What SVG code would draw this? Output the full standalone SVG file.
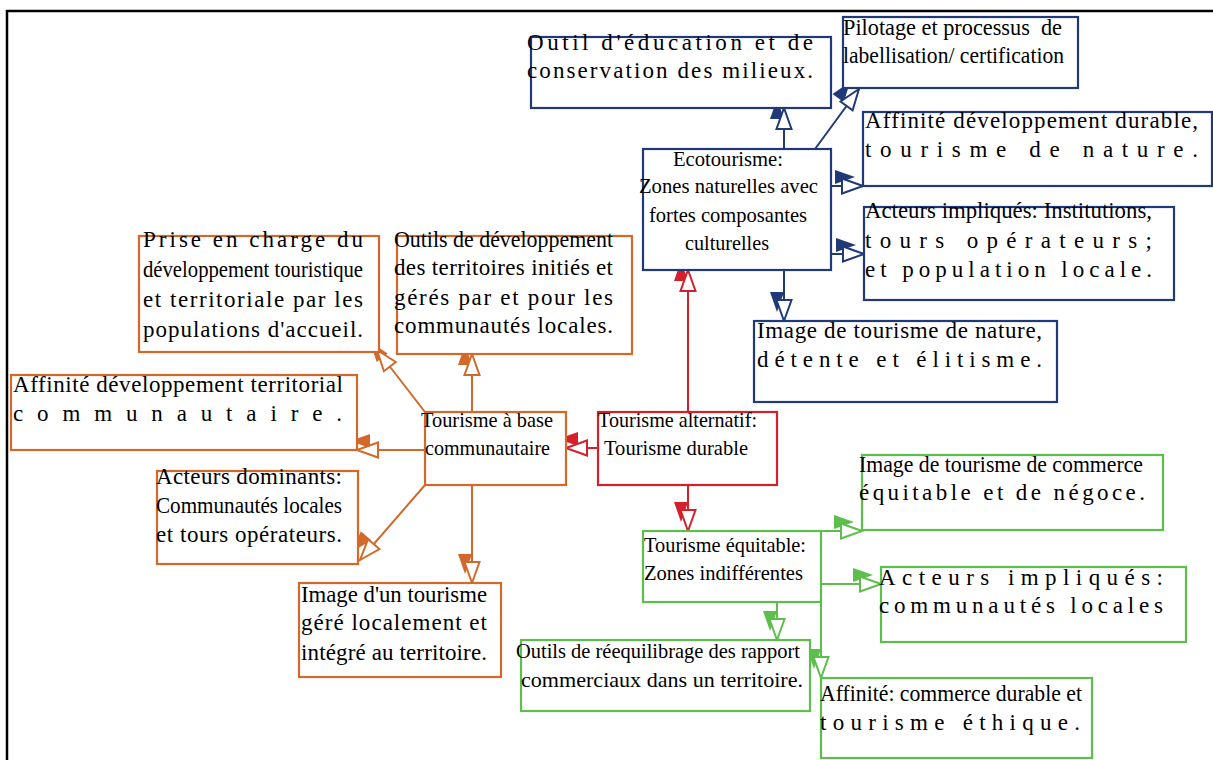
<svg xmlns="http://www.w3.org/2000/svg" xmlns:xlink="http://www.w3.org/1999/xlink" width="1213" height="760" viewBox="0 0 1213 760">
  <style>
    text { font-family: "Liberation Serif", "Times New Roman", serif; font-size: 23px; fill: #000; }
    text.c { font-size: 22px; }
    rect { fill: #fff; stroke-width: 2.2; }
    line { stroke-width: 2; fill: none; }
    .af { stroke: none; }
    .ao { fill: #fff; stroke-width: 2; stroke-linejoin: miter; }
    .blue rect, .blue line, .blue .ao { stroke: #203A78; }
    .blue .af { fill: #203A78; }
    .red rect, .red line, .red .ao { stroke: #D3202A; }
    .red .af { fill: #D3202A; }
    .orange rect, .orange line, .orange .ao { stroke: #D2692A; }
    .orange .af { fill: #D2692A; }
    .green rect, .green line, .green .ao { stroke: #5CBF4B; }
    .green .af { fill: #5CBF4B; }
    .frame { stroke: #000; stroke-width: 2.5; fill: none; }
  </style>
  <defs>
    <!-- arrowheads drawn pointing along +x, tip at the origin -->
    <path id="head-fill" d="M0,0 L-20,-7 L-20,7 Z"/>
    <path id="head-open" d="M0,0 L-21,-7.5 L-21,7.5 Z"/>
  </defs>

  <rect width="1213" height="760" style="fill:#fff;stroke:none"/>
  <path class="frame" d="M7,760 L7,11 L1213,11"/>

  <!-- connectors -->
  <g id="connectors">
    <g class="blue">
      <line x1="784" y1="149" x2="784" y2="108"/>
      <use xlink:href="#head-fill" class="af" transform="translate(777,99) rotate(-90)"/>
      <use xlink:href="#head-open" class="ao" transform="translate(784,108) rotate(-90)"/>
      <line x1="815" y1="149" x2="859" y2="89"/>
      <use xlink:href="#head-fill" class="af" transform="translate(850,82) rotate(-53.7)"/>
      <use xlink:href="#head-open" class="ao" transform="translate(859,89) rotate(-53.7)"/>
      <line x1="831" y1="186" x2="863" y2="186"/>
      <use xlink:href="#head-fill" class="af" transform="translate(855,177) rotate(0)"/>
      <use xlink:href="#head-open" class="ao" transform="translate(863,186) rotate(0)"/>
      <line x1="831" y1="254" x2="864" y2="254"/>
      <use xlink:href="#head-fill" class="af" transform="translate(856,245) rotate(0)"/>
      <use xlink:href="#head-open" class="ao" transform="translate(864,254) rotate(0)"/>
      <line x1="784" y1="270" x2="784" y2="321"/>
      <use xlink:href="#head-fill" class="af" transform="translate(777,312) rotate(90)"/>
      <use xlink:href="#head-open" class="ao" transform="translate(784,321) rotate(90)"/>
    </g>
    <g class="red">
      <line x1="688" y1="412" x2="688" y2="270"/>
      <use xlink:href="#head-fill" class="af" transform="translate(681,261) rotate(-90)"/>
      <use xlink:href="#head-open" class="ao" transform="translate(688,270) rotate(-90)"/>
      <line x1="598" y1="448" x2="566" y2="448"/>
      <use xlink:href="#head-fill" class="af" transform="translate(558,439) rotate(180)"/>
      <use xlink:href="#head-open" class="ao" transform="translate(566,448) rotate(180)"/>
      <line x1="688" y1="485" x2="688" y2="531"/>
      <use xlink:href="#head-fill" class="af" transform="translate(681,522) rotate(90)"/>
      <use xlink:href="#head-open" class="ao" transform="translate(688,531) rotate(90)"/>
    </g>
    <g class="orange">
      <line x1="472" y1="412" x2="472" y2="354"/>
      <use xlink:href="#head-fill" class="af" transform="translate(465,345) rotate(-90)"/>
      <use xlink:href="#head-open" class="ao" transform="translate(472,354) rotate(-90)"/>
      <line x1="425" y1="412" x2="377" y2="350"/>
      <use xlink:href="#head-fill" class="af" transform="translate(370,342) rotate(-127.7)"/>
      <use xlink:href="#head-open" class="ao" transform="translate(377,350) rotate(-127.7)"/>
      <line x1="425" y1="450" x2="357" y2="450"/>
      <use xlink:href="#head-fill" class="af" transform="translate(350,441) rotate(180)"/>
      <use xlink:href="#head-open" class="ao" transform="translate(357,450) rotate(180)"/>
      <line x1="425" y1="485" x2="360" y2="560"/>
      <use xlink:href="#head-fill" class="af" transform="translate(353,551) rotate(130.9)"/>
      <use xlink:href="#head-open" class="ao" transform="translate(360,560) rotate(130.9)"/>
      <line x1="472" y1="485" x2="472" y2="583"/>
      <use xlink:href="#head-fill" class="af" transform="translate(465,574) rotate(90)"/>
      <use xlink:href="#head-open" class="ao" transform="translate(472,583) rotate(90)"/>
    </g>
    <g class="green">
      <line x1="821" y1="531" x2="862" y2="531"/>
      <use xlink:href="#head-fill" class="af" transform="translate(854,522) rotate(0)"/>
      <use xlink:href="#head-open" class="ao" transform="translate(862,531) rotate(0)"/>
      <line x1="821" y1="584" x2="881" y2="584"/>
      <use xlink:href="#head-fill" class="af" transform="translate(873,575) rotate(0)"/>
      <use xlink:href="#head-open" class="ao" transform="translate(881,584) rotate(0)"/>
      <line x1="777" y1="602" x2="777" y2="640"/>
      <use xlink:href="#head-fill" class="af" transform="translate(770,631) rotate(90)"/>
      <use xlink:href="#head-open" class="ao" transform="translate(777,640) rotate(90)"/>
      <line x1="821" y1="531" x2="821" y2="678"/>
      <use xlink:href="#head-fill" class="af" transform="translate(814,669) rotate(90)"/>
      <use xlink:href="#head-open" class="ao" transform="translate(821,678) rotate(90)"/>
    </g>
  </g>

  <!-- ecotourism branch -->
  <g id="eco-education" class="blue">
    <rect x="531" y="37" width="300" height="71"/>
    <text x="527" y="50" textLength="286">Outil d'éducation et de</text>
    <text x="527" y="78" textLength="286">conservation des milieux.</text>
  </g>
  <g id="eco-label" class="blue">
    <rect x="843" y="17" width="235" height="71"/>
    <text x="843" y="35" textLength="219" lengthAdjust="spacingAndGlyphs" xml:space="preserve">Pilotage et processus  de</text>
    <text x="843" y="63" textLength="221" lengthAdjust="spacingAndGlyphs">labellisation/ certification</text>
  </g>
  <g id="eco-affinity" class="blue">
    <rect x="863" y="112" width="349" height="74"/>
    <text x="865" y="128" textLength="333">Affinité développement durable,</text>
    <text x="865" y="157" textLength="333">tourisme de nature.</text>
  </g>
  <g id="eco-main" class="blue">
    <rect x="643" y="149" width="188" height="121"/>
    <text class="c" x="673" y="166" textLength="110" lengthAdjust="spacingAndGlyphs">Ecotourisme:</text>
    <text class="c" x="639" y="193" textLength="179" lengthAdjust="spacingAndGlyphs">Zones naturelles avec</text>
    <text class="c" x="649" y="222" textLength="158" lengthAdjust="spacingAndGlyphs">fortes composantes</text>
    <text class="c" x="685" y="250" textLength="84" lengthAdjust="spacingAndGlyphs">culturelles</text>
  </g>
  <g id="eco-actors" class="blue">
    <rect x="864" y="207" width="310" height="93"/>
    <text x="865" y="218" textLength="287" lengthAdjust="spacingAndGlyphs">Acteurs impliqués: Institutions,</text>
    <text x="865" y="248" textLength="287">tours opérateurs;</text>
    <text x="865" y="277" textLength="287">et population locale.</text>
  </g>
  <g id="eco-image" class="blue">
    <rect x="754" y="321" width="303" height="81"/>
    <text x="757" y="338" textLength="285">Image de tourisme de nature,</text>
    <text x="757" y="367" textLength="285">détente et élitisme.</text>
  </g>

  <!-- root -->
  <g id="alternative" class="red">
    <rect x="598" y="412" width="179" height="73"/>
    <text class="c" x="598" y="427" textLength="159" lengthAdjust="spacingAndGlyphs">Tourisme alternatif:</text>
    <text class="c" x="604" y="455" textLength="144" lengthAdjust="spacingAndGlyphs">Tourisme durable</text>
  </g>

  <!-- community-based branch -->
  <g id="community-main" class="orange">
    <rect x="425" y="412" width="141" height="73"/>
    <text class="c" x="421" y="427" textLength="132" lengthAdjust="spacingAndGlyphs">Tourisme à base</text>
    <text class="c" x="425" y="455" textLength="125" lengthAdjust="spacingAndGlyphs">communautaire</text>
  </g>
  <g id="community-takeover" class="orange">
    <rect x="139" y="236" width="240" height="116"/>
    <text x="143" y="247" textLength="220">Prise en charge du</text>
    <text x="143" y="277" textLength="220" lengthAdjust="spacingAndGlyphs">développement touristique</text>
    <text x="143" y="307" textLength="220">et territoriale par les</text>
    <text x="143" y="337" textLength="220">populations d'accueil.</text>
  </g>
  <g id="community-tools" class="orange">
    <rect x="397" y="236" width="235" height="118"/>
    <text x="394" y="247" textLength="219" lengthAdjust="spacingAndGlyphs">Outils de développement</text>
    <text x="394" y="275" textLength="219">des territoires initiés et</text>
    <text x="394" y="305" textLength="219">gérés par et pour les</text>
    <text x="394" y="333" textLength="219">communautés locales.</text>
  </g>
  <g id="community-affinity" class="orange">
    <rect x="11" y="375" width="346" height="75"/>
    <text x="13" y="392" textLength="330">Affinité développement territorial</text>
    <text x="13" y="421" textLength="329">communautaire.</text>
  </g>
  <g id="community-actors" class="orange">
    <rect x="157" y="471" width="201" height="93"/>
    <text x="156" y="484" textLength="186">Acteurs dominants:</text>
    <text x="156" y="513" textLength="186" lengthAdjust="spacingAndGlyphs">Communautés locales</text>
    <text x="156" y="542" textLength="186">et tours opérateurs.</text>
  </g>
  <g id="community-image" class="orange">
    <rect x="299" y="583" width="202" height="94"/>
    <text x="301" y="602" textLength="186" lengthAdjust="spacingAndGlyphs">Image d'un tourisme</text>
    <text x="301" y="630" textLength="186">géré localement et</text>
    <text x="301" y="660" textLength="186">intégré au territoire.</text>
  </g>

  <!-- fair-trade branch -->
  <g id="fair-main" class="green">
    <rect x="643" y="531" width="178" height="71"/>
    <text class="c" x="644" y="552" textLength="162" lengthAdjust="spacingAndGlyphs">Tourisme équitable:</text>
    <text class="c" x="644" y="580" textLength="159" lengthAdjust="spacingAndGlyphs">Zones indifférentes</text>
  </g>
  <g id="fair-image" class="green">
    <rect x="862" y="455" width="301" height="75"/>
    <text x="859" y="472" textLength="284" lengthAdjust="spacingAndGlyphs">Image de tourisme de commerce</text>
    <text x="859" y="500" textLength="286">équitable et de négoce.</text>
  </g>
  <g id="fair-actors" class="green">
    <rect x="881" y="567" width="305" height="75"/>
    <text x="879" y="585" textLength="284">Acteurs impliqués:</text>
    <text x="879" y="613" textLength="284">communautés locales</text>
  </g>
  <g id="fair-tools" class="green">
    <rect x="521" y="640" width="289" height="71"/>
    <text class="c" x="516" y="658" textLength="284" lengthAdjust="spacingAndGlyphs">Outils de réequilibrage des rapport</text>
    <text class="c" x="521" y="687" textLength="282" lengthAdjust="spacingAndGlyphs">commerciaux dans un territoire.</text>
  </g>
  <g id="fair-affinity" class="green">
    <rect x="821" y="678" width="271" height="80"/>
    <text x="820" y="701" textLength="262" lengthAdjust="spacingAndGlyphs">Affinité: commerce durable et</text>
    <text x="820" y="730" textLength="260">tourisme éthique.</text>
  </g>
</svg>
